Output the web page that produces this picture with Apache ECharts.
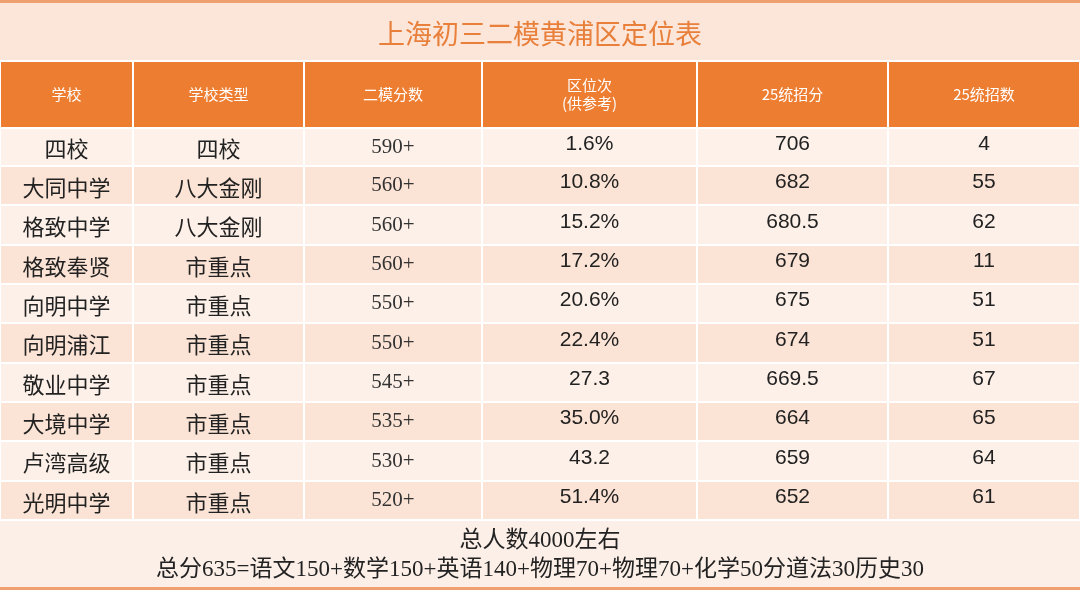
<!DOCTYPE html>
<html>
<head>
<meta charset="utf-8"/>
<title>上海初三二模黄浦区定位表</title>
<script src="https://cdn.jsdelivr.net/npm/echarts@6/dist/echarts.min.js"></script>
<style>html,body{margin:0;padding:0;background:#fff;}</style>
</head>
<body>
<div id="main" style="width:1080px;height:590px;"></div>
<script type="text/javascript">
var headers = ['学校', '学校类型', '二模分数', '区位次\n(供参考)', '25统招分', '25统招数'];
var schools = ['四校', '大同中学', '格致中学', '格致奉贤', '向明中学', '向明浦江', '敬业中学', '大境中学', '卢湾高级', '光明中学'];
var types = ['四校', '八大金刚', '八大金刚', '市重点', '市重点', '市重点', '市重点', '市重点', '市重点', '市重点'];
var scores = ['590+', '560+', '560+', '560+', '550+', '550+', '545+', '535+', '530+', '520+'];
var ranks = ['1.6%', '10.8%', '15.2%', '17.2%', '20.6%', '22.4%', '27.3', '35.0%', '43.2', '51.4%'];
var cutoff = ['706', '682', '680.5', '679', '675', '674', '669.5', '664', '659', '652'];
var quota = ['4', '55', '62', '11', '51', '51', '67', '65', '64', '61'];

// column and row edges (in axis units = px from table top)
var colEdges = [0, 133, 304, 482, 697, 888, 1080];
var rowEdges = [0, 67, 105, 144, 184, 223, 262, 302, 341, 380, 420, 459];

var columns = [schools, types, scores, ranks, cutoff, quota];
var cells = [];
headers.forEach(function (h, c) { cells.push([c, 0, h]); });
for (var r = 0; r < schools.length; r++) {
  for (var c = 0; c < columns.length; c++) cells.push([c, r + 1, columns[c][r]]);
}

var dom = document.getElementById('main');
var myChart = echarts.init(dom);
option = {
  backgroundColor: '#fff',
  animation: false,
  title: {
    text: '上海初三二模黄浦区定位表',
    left: 'center', top: 15,
    textStyle: { color: '#e8803c', fontSize: 27, fontWeight: 'normal', fontFamily: 'Noto Sans CJK SC' }
  },
  graphic: [
    { type: 'rect', z: -1, shape: { x: 0, y: 0, width: 1080, height: 3 }, style: { fill: '#f0a070' } },
    { type: 'rect', z: -1, shape: { x: 0, y: 3, width: 1080, height: 57 }, style: { fill: '#fce6da' } },
    { type: 'rect', z: -1, shape: { x: 0, y: 521, width: 1080, height: 66 }, style: { fill: '#fcefe7' } },
    { type: 'rect', z: -1, shape: { x: 0, y: 587, width: 1080, height: 3 }, style: { fill: '#f0a070' } },
    { type: 'text', left: 'center', top: 529, style: { text: '总人数4000左右', fill: '#222', font: '23px "Liberation Serif", "Noto Sans CJK SC"' } },
    { type: 'text', left: 'center', top: 558, style: { text: '总分635=语文150+数学150+英语140+物理70+物理70+化学50分道法30历史30', fill: '#222', font: '23px "Liberation Serif", "Noto Sans CJK SC"' } }
  ],
  grid: { left: 0, right: 0, top: 61, bottom: 70 },
  xAxis: { type: 'value', min: 0, max: 1080, show: false },
  yAxis: { type: 'value', min: 0, max: 459, inverse: true, show: false },
  series: [{
    type: 'custom',
    data: cells,
    renderItem: function (params, api) {
      var c = api.value(0), r = api.value(1);
      var text = cells[params.dataIndex][2];
      var p0 = api.coord([colEdges[c], rowEdges[r]]);
      var p1 = api.coord([colEdges[c + 1], rowEdges[r + 1]]);
      var fill = r === 0 ? '#ed7d31' : (r === 1 ? '#fdf1ea' : (r % 2 === 0 ? '#fbe3d5' : '#fdf0e8'));
      var font, color = '#222', dy = 0;
      if (r === 0) { font = '15px "Noto Sans CJK SC"'; color = '#fff'; }
      else if (c < 2) { font = '22px "Noto Sans CJK SC"'; dy = 2; }
      else if (c === 2) { font = '21px "Liberation Serif"'; color = '#333'; }
      else { font = '21px "Liberation Sans"'; dy = -3; }
      return {
        type: 'group',
        children: [{
          type: 'rect',
          shape: { x: p0[0] + 1, y: p0[1] + 1, width: p1[0] - p0[0] - 2, height: p1[1] - p0[1] - 2 },
          style: { fill: fill }
        }, {
          type: 'text',
          style: {
            text: text, x: (p0[0] + p1[0]) / 2, y: (p0[1] + p1[1]) / 2 + dy,
            align: 'center', verticalAlign: 'middle', font: font, fill: color, lineHeight: 18
          }
        }]
      };
    }
  }]
};
myChart.setOption(option);
</script>
</body>
</html>
